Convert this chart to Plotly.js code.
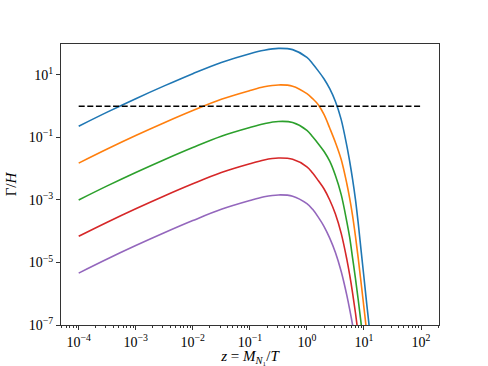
<!DOCTYPE html>
<html>
<head>
<meta charset="utf-8">
<script src="https://cdn.plot.ly/plotly-3.0.1.min.js"></script>
<style>
  html, body { margin: 0; padding: 0; background: #fff; }
  #plotArea { width: 488px; height: 366px; }
</style>
</head>
<body>
<div id="plotArea"></div>
<script>
// z = M_N1 / T
var z = [1e-4, 3.16e-4, 1e-3, 3.16e-3, 0.01, 0.0316, 0.1, 0.178, 0.316, 0.562, 1.0,
         1.26, 1.58, 2.0, 2.51, 3.16, 3.98, 5.01, 5.62, 6.31, 7.08, 7.94, 8.91, 10.0, 11.2, 12.6, 14.1];

// Gamma / H, one array per curve
var rateBlue = [0.229, 0.646, 1.74, 4.47, 11.0, 25.1, 47.9, 61.7, 70.8, 64.6, 36.3,
                22.9, 13.5, 7.41, 3.63, 1.41, 0.380, 0.0537, 0.0170, 4.68e-3, 1.07e-3, 1.78e-4, 2.40e-5, 3.31e-6, 4.57e-7, 6.46e-8, 7.94e-9];
var rateOrange = [0.0151, 0.0427, 0.115, 0.295, 0.724, 1.66, 3.16, 4.17, 4.79, 4.37, 2.51,
                  1.74, 1.12, 0.537, 0.200, 0.0692, 0.0200, 3.31e-3, 1.12e-3, 3.16e-4, 7.08e-5, 1.35e-5, 2.24e-6, 3.55e-7, 5.62e-8, 7.94e-9, 1e-9];
var rateGreen = [1.0e-3, 2.82e-3, 7.59e-3, 0.0195, 0.0479, 0.110, 0.209, 0.275, 0.324, 0.302, 0.170,
                 0.105, 0.0631, 0.0355, 0.0174, 6.03e-3, 1.51e-3, 2.0e-4, 6.31e-5, 1.41e-5, 3.16e-6, 6.31e-7, 1.12e-7, 1.78e-8, 2.51e-9, 3.16e-10, 3.98e-11];
var rateRed = [6.92e-5, 1.95e-4, 5.25e-4, 1.35e-3, 3.31e-3, 7.59e-3, 0.0145, 0.0191, 0.0219, 0.0200, 0.0115,
               7.24e-3, 4.17e-3, 2.24e-3, 1.0e-3, 3.55e-4, 8.71e-5, 1.26e-5, 3.98e-6, 1.07e-6, 2.51e-7, 5.01e-8, 7.94e-9, 1.26e-9, 2.0e-10, 3.16e-11, 5.01e-12];
var ratePurple = [4.57e-6, 1.29e-5, 3.47e-5, 8.91e-5, 2.19e-4, 5.01e-4, 9.55e-4, 1.26e-3, 1.45e-3, 1.32e-3, 7.59e-4,
                  5.01e-4, 2.82e-4, 1.41e-4, 6.03e-5, 2.09e-5, 5.25e-6, 8.91e-7, 3.16e-7, 1.0e-7, 2.51e-8, 3.55e-9, 5.62e-10, 7.94e-11, 1.0e-11, 1.26e-12, 1.58e-13];

// equilibrium line Gamma/H = 1
var refZ = [1e-4, 1e2];
var refRate = [1, 1];

var xTicks = [1e-4, 1e-3, 1e-2, 1e-1, 1e0, 1e1, 1e2];
var xTickText = ["10<sup>−4</sup>", "10<sup>−3</sup>", "10<sup>−2</sup>", "10<sup>−1</sup>", "10<sup>0</sup>", "10<sup>1</sup>", "10<sup>2</sup>"];
var yTicks = [1e-7, 1e-5, 1e-3, 1e-1, 1e1];
var yTickText = ["10<sup>−7</sup>", "10<sup>−5</sup>", "10<sup>−3</sup>", "10<sup>−1</sup>", "10<sup>1</sup>"];

var rates = [rateBlue, rateOrange, rateGreen, rateRed, ratePurple];
var colors = ["#1f77b4", "#ff7f0e", "#2ca02c", "#d62728", "#9467bd"];

var data = rates.map(function(r, i) {
    return {
        x: z,
        y: r,
        mode: "lines",
        type: "scatter",
        line: {color: colors[i], width: 1.6, shape: "spline", smoothing: 1}
    };
});

data.push({
    x: refZ,
    y: refRate,
    mode: "lines",
    type: "scatter",
    line: {color: "#000000", width: 1.6, dash: "6px,2.6px"}
});

var serif = "Liberation Serif, DejaVu Serif, serif";
var tickFont = {family: serif, size: 14, color: "#000"};

var layout = {
    width: 488,
    height: 366,
    margin: {l: 61, r: 49, t: 44, b: 41},
    paper_bgcolor: "#fff",
    plot_bgcolor: "#fff",
    showlegend: false,
    font: tickFont,
    xaxis: {
        type: "log",
        range: [-4.31, 2.315],
        tickmode: "array",
        tickvals: xTicks,
        ticktext: xTickText,
        ticks: "outside",
        ticklen: 4,
        tickcolor: "#333",
        showgrid: false,
        zeroline: false,
        showline: true,
        mirror: true,
        linecolor: "#333",
        linewidth: 1,
        tickfont: tickFont,
        minor: {ticks: "outside", ticklen: 2, tickcolor: "#333", dtick: "D1", showgrid: false},
        title: {text: "<i>z</i> = <i>M</i><sub><i>N</i>₁</sub>/<i>T</i>", font: {family: serif, size: 15}, standoff: 0}
    },
    yaxis: {
        type: "log",
        range: [-7, 1.99],
        tickmode: "array",
        tickvals: yTicks,
        ticktext: yTickText,
        ticks: "outside",
        ticklen: 4,
        tickcolor: "#333",
        showgrid: false,
        zeroline: false,
        showline: true,
        mirror: true,
        linecolor: "#333",
        linewidth: 1,
        tickfont: tickFont,
        title: {text: "Γ/<i>H</i>", font: {family: serif, size: 15}, standoff: 8}
    }
};

Plotly.newPlot("plotArea", data, layout, {staticPlot: true, displayModeBar: false});
</script>
</body>
</html>
